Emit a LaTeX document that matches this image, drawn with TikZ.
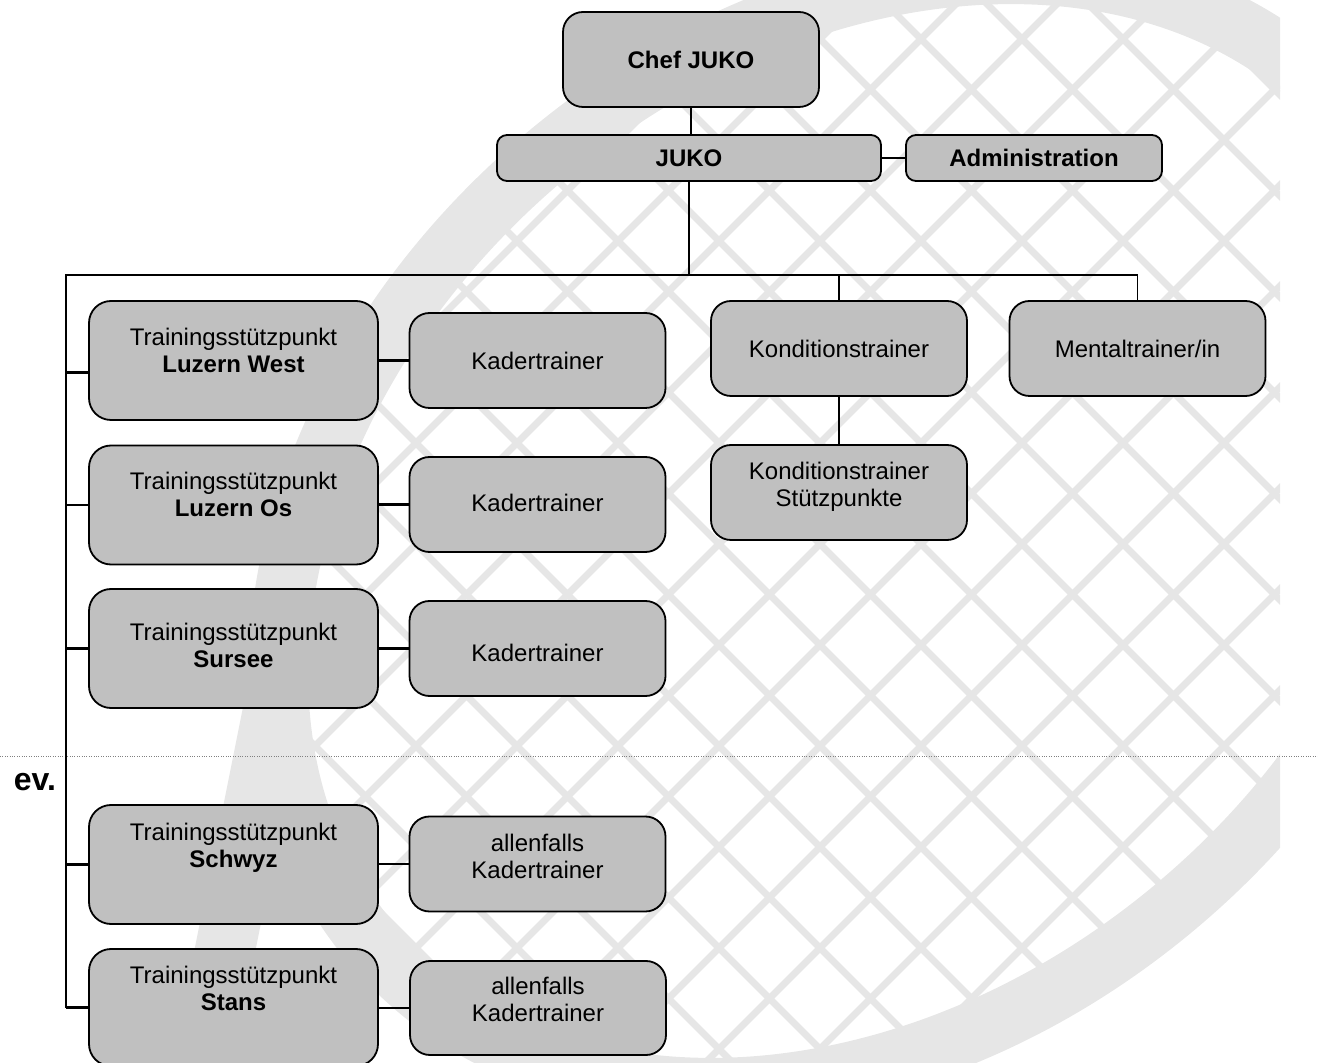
\documentclass[tikz,border=0pt]{standalone}
\usepackage{fontspec}
\setmainfont{Liberation Sans}

\definecolor{boxgray}{HTML}{C0C0C0}
\definecolor{markgray}{HTML}{E6E6E6}
\definecolor{dotgray}{HTML}{808080}

\newcommand{\lift}[2]{\raisebox{#1}[\height][\depth]{\begin{tabular}{@{}c@{}}#2\end{tabular}}}

\tikzset{
  box/.style={draw=black, fill=boxgray, line width=0.9pt, rounded corners=10pt,
    inner sep=0pt, minimum width=128pt, minimum height=47.5pt,
    font=\fontsize{12}{13.5}\selectfont},
  flatbox/.style={box, rounded corners=5pt, minimum height=23pt,
    font=\fontsize{12}{13.5}\selectfont\bfseries},
  tspbox/.style={box, rounded corners=11pt, minimum width=144.5pt, minimum height=59.5pt},
  trunk/.style={line width=1.2pt},
  twig/.style={line width=0.75pt},
  wmring/.style={draw=markgray, line width=30pt},
  wmline/.style={draw=markgray, line width=3.5pt}
}

\begin{document}
\begin{tikzpicture}[x=0.5pt,y=-0.5pt]
  \useasboundingbox (0,0) rectangle (1318,1063);

  \begin{scope}
    \clip (0,0) rectangle (1280,1063);
    \begin{scope}
      \clip (861,531) ellipse [x radius=615, y radius=465, rotate=40];
      \foreach \k in {-13,...,12} {
        \draw[wmline] (-100,{-275-101*\k}) -- (1500,{1325-101*\k});
        \draw[wmline] (-100,{1363+101*\k}) -- (1500,{-237+101*\k});
      }
    \end{scope}
    \draw[wmring] (861,531) ellipse [x radius=640, y radius=490, rotate=40];
    \draw[wmring] (283,660) .. controls (245,850) .. (195,1100);
  \end{scope}

  \draw[dotgray, line width=0.5pt, dash pattern=on 0.5pt off 0.7pt] (0,757) -- (1318,757);
  \node[font=\fontsize{16}{18}\selectfont\bfseries] (ev) at (35,782) {ev.};

  \node[box, font=\fontsize{12}{13.5}\selectfont\bfseries] (chef) at (691,59.5) {Chef JUKO};
  \node[flatbox, minimum width=192pt] (juko) at (689,158) {JUKO};
  \node[flatbox] (admin) at (1034,158) {Administration};

  \node[box] (kond) at (839,348.5) {Konditionstrainer};
  \node[box] (mental) at (1137.5,348.5) {Mentaltrainer/in};
  \node[box] (kondsp) at (839,492.5) {\lift{2.5pt}{Konditionstrainer\\Stützpunkte}};

  \node[tspbox] (lw) at (233.5,360.5) {\lift{3.5pt}{Trainingsstützpunkt\\\textbf{Luzern West}}};
  \node[tspbox] (lo) at (233.5,505) {\lift{3.75pt}{Trainingsstützpunkt\\\textbf{Luzern Os}}};
  \node[tspbox] (su) at (233.5,648.5) {\lift{0pt}{Trainingsstützpunkt\\\textbf{Sursee}}};
  \node[tspbox] (sz) at (233.5,864.5) {\lift{8pt}{Trainingsstützpunkt\\\textbf{Schwyz}}};
  \node[tspbox, minimum height=58.5pt] (st) at (233.5,1007.5) {\lift{8pt}{Trainingsstützpunkt\\\textbf{Stans}}};

  \node[box] (kadlw) at (537.5,360.5) {Kadertrainer};
  \node[box] (kadlo) at (537.5,504.5) {\lift{-1pt}{Kadertrainer}};
  \node[box] (kadsu) at (537.5,648.5) {\lift{-4pt}{Kadertrainer}};
  \node[box] (kadsz) at (537.5,864) {\lift{2pt}{allenfalls\\Kadertrainer}};
  \node[box, minimum height=47pt] (kadst) at (538,1008) {\lift{2.75pt}{allenfalls\\Kadertrainer}};

  \coordinate (bus) at (689,275);
  \coordinate (rail) at (66,275);
  \coordinate (lwstub) at ([yshift=-6pt]lw.west);

  \draw[trunk] (chef.south) -- (chef.south |- juko.north);
  \draw[twig] (juko.east) -- (admin.west);
  \draw[trunk] (juko.south) -- (bus) -- (rail) -- (rail |- st.west);
  \draw[twig] (bus) -| (mental.north);
  \draw[twig] (kond.north |- bus) -- (kond.north);
  \draw[twig] (kond.south) -- (kondsp.north);

  \draw[trunk] (lwstub) -- (lwstub -| rail);
  \draw[trunk] (lo.west) -- (lo.west -| rail);
  \draw[trunk] (su.west) -- (su.west -| rail);
  \draw[trunk] (sz.west) -- (sz.west -| rail);
  \draw[trunk] (st.west) -- (st.west -| rail);

  \draw[trunk] (lw.east |- kadlw.west) -- (kadlw.west);
  \draw[trunk] (lo.east |- kadlo.west) -- (kadlo.west);
  \draw[trunk] (su.east |- kadsu.west) -- (kadsu.west);
  \draw[trunk] (sz.east |- kadsz.west) -- (kadsz.west);
  \draw[trunk] (st.east |- kadst.west) -- (kadst.west);
\end{tikzpicture}
\end{document}
